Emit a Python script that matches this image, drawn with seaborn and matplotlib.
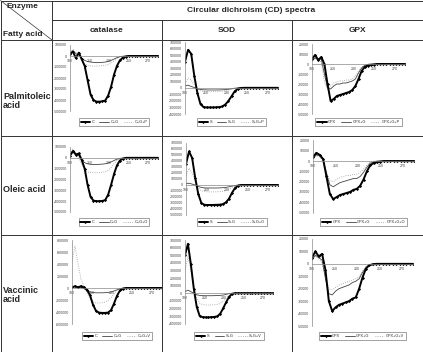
import numpy as np
import pandas as pd
import seaborn as sns
import matplotlib.pyplot as plt
from matplotlib.lines import Line2D
from matplotlib.ticker import FuncFormatter, MultipleLocator

sns.set_style('white')
plt.rcParams['font.family'] = ['Liberation Sans', 'DejaVu Sans']

# wavelength (nm)
wl = [190, 193, 196, 199, 202, 205, 208, 211, 214, 217, 220, 223, 226, 229, 232, 235,
      238, 241, 244, 247, 250, 253, 256, 259, 262, 265, 268, 271, 274, 277, 280]

# CD values, in thousands
# palmitoleic acid
pal_cat_c = [20, 40, -20, 30, -30, -90, -220, -350, -400, -415, -415, -412, -405, -360, -280, -170,
             -90, -40, -15, -5, 0, 0, 0, 0, 0, 0, 0, 0, 0, 0, 0]
pal_cat_cg = [10, 50, 20, 10, -20, -40, -50, -55, -58, -60, -60, -58, -55, -50, -40, -28,
              -15, -6, -2, 0, 0, 0, 0, 0, 0, 0, 0, 0, 0, 0, 0]
pal_cat_cgp = [30, 60, 30, 0, -40, -70, -85, -90, -92, -92, -90, -88, -85, -78, -65, -45,
               -25, -10, -3, 0, 0, 0, 0, 0, 0, 0, 0, 0, 0, 0, 0]
pal_sod_s = [400, 580, 520, 180, -80, -250, -295, -300, -300, -300, -298, -295, -285, -255, -200, -130,
             -55, -15, -3, 0, 0, 0, 0, 0, 0, 0, 0, 0, 0, 0, 0]
pal_sod_sg = [30, 40, 20, 5, -15, -25, -30, -32, -33, -33, -33, -32, -30, -28, -22, -14,
              -6, -2, 0, 0, 0, 0, 0, 0, 0, 0, 0, 0, 0, 0, 0]
pal_sod_sgp = [60, 150, 120, 40, -20, -45, -55, -58, -60, -60, -58, -56, -52, -45, -35, -22,
               -10, -3, 0, 0, 0, 0, 0, 0, 0, 0, 0, 0, 0, 0, 0]
pal_gpx = [5, 9, 4, 7, 0, -20, -37, -35, -32, -31, -30, -29, -28, -26, -22, -15,
           -7, -3, -1.5, -1, -0.5, 0, 0, 0, 0, 0, 0, 0, 0, 0, 0]
pal_gpx_g = [3, 6, 4, 5, -10, -24, -25, -22, -20, -20, -19, -19, -18, -17, -15, -9,
             -4, -1.5, -0.5, 0, 0, 0, 0, 0, 0, 0, 0, 0, 0, 0, 0]
pal_gpx_gp = [4, 7, 5, 2, -18, -25, -22, -19, -18, -17, -17, -16, -16, -15, -12, -7,
              -3, -1, 0, 0, 0, 0, 0, 0, 0, 0, 0, 0, 0, 0, 0]

# oleic acid
ole_cat_c = [20, 60, 30, 40, -20, -100, -250, -360, -395, -400, -400, -398, -390, -340, -250, -150,
             -70, -25, -8, 0, 0, 0, 0, 0, 0, 0, 0, 0, 0, 0, 0]
ole_cat_cg = [30, 70, 40, 20, -20, -45, -55, -60, -62, -62, -60, -58, -55, -48, -38, -25,
              -12, -5, -2, 0, 0, 0, 0, 0, 0, 0, 0, 0, 0, 0, 0]
ole_cat_cgo = [40, 80, 50, 0, -60, -110, -130, -135, -138, -138, -136, -133, -128, -115, -90, -55,
               -25, -10, -3, 0, 0, 0, 0, 0, 0, 0, 0, 0, 0, 0, 0]
ole_sod_s = [350, 560, 450, 120, -150, -300, -330, -333, -333, -332, -330, -328, -320, -290, -230, -130,
             -50, -10, 0, 0, 0, 0, 0, 0, 0, 0, 0, 0, 0, 0, 0]
ole_sod_sg = [20, 30, 15, 0, -25, -40, -48, -50, -50, -50, -50, -48, -45, -40, -30, -18,
              -8, -2, 0, 0, 0, 0, 0, 0, 0, 0, 0, 0, 0, 0, 0]
ole_sod_sgo = [150, 280, 200, 60, -50, -95, -110, -113, -115, -115, -113, -110, -105, -95, -70, -40,
               -15, -4, 0, 0, 0, 0, 0, 0, 0, 0, 0, 0, 0, 0, 0]
ole_gpx = [4, 8, 6, 2, -15, -32, -37, -35, -33, -32, -31, -30, -28, -27, -24, -18,
           -10, -4, -2, -1, -0.5, 0, 0, 0, 0, 0, 0, 0, 0, 0, 0]
ole_gpx_g = [3, 6, 5, 1, -12, -23, -25, -23, -21, -20, -19, -18, -17, -17, -15, -11,
             -6, -2, -1, 0, 0, 0, 0, 0, 0, 0, 0, 0, 0, 0, 0]
ole_gpx_go = [3, 5, 4, 0, -10, -19, -20, -18, -16, -15, -14, -14, -13, -13, -11, -8,
              -4, -1, 0, 0, 0, 0, 0, 0, 0, 0, 0, 0, 0, 0, 0]

# vaccenic acid
vac_cat_c = [10, 30, 10, 30, 10, -30, -120, -280, -380, -410, -415, -415, -410, -370, -260, -130,
             -40, -10, 0, 0, 0, 0, 0, 0, 0, 0, 0, 0, 0, 0, 0]
vac_cat_cg = [10, 30, 15, 10, -10, -40, -65, -75, -80, -80, -80, -78, -75, -65, -50, -30,
              -12, -4, 0, 0, 0, 0, 0, 0, 0, 0, 0, 0, 0, 0, 0]
vac_cat_cgv = [450, 700, 400, 150, 30, -80, -180, -230, -250, -250, -245, -235, -210, -160, -100, -40,
               -10, 0, 0, 0, 0, 0, 0, 0, 0, 0, 0, 0, 0, 0, 0]
vac_sod_s = [500, 650, 380, 60, -180, -300, -315, -318, -318, -315, -312, -305, -270, -200, -120, -50,
             -10, 0, 0, 0, 0, 0, 0, 0, 0, 0, 0, 0, 0, 0, 0]
vac_sod_sg = [20, 40, 20, 0, -20, -30, -32, -33, -33, -33, -32, -31, -28, -25, -15, -5,
              0, 0, 0, 0, 0, 0, 0, 0, 0, 0, 0, 0, 0, 0, 0]
vac_sod_sgv = [300, 480, 300, 80, -60, -130, -150, -155, -155, -155, -152, -148, -135, -105, -65, -25,
               -5, 0, 0, 0, 0, 0, 0, 0, 0, 0, 0, 0, 0, 0, 0]
vac_gpx = [5, 10, 6, 8, -5, -30, -38, -35, -33, -32, -31, -30, -28, -27, -20, -11,
           -4, -1, -0.5, 0, 0, 0, 0, 0, 0, 0, 0, 0, 0, 0, 0]
vac_gpx_g = [3, 7, 5, 3, -12, -24, -25, -22, -20, -19, -18, -17, -15, -14, -12, -7,
             -3, -1, 0, 0, 0, 0, 0, 0, 0, 0, 0, 0, 0, 0, 0]
vac_gpx_gv = [3, 6, 4, 1, -10, -20, -21, -19, -17, -16, -15, -14, -13, -12, -10, -6,
              -2, -1, 0, 0, 0, 0, 0, 0, 0, 0, 0, 0, 0, 0, 0]

enzymes = ['catalase', 'SOD', 'GPX']
fatty_acids = ['Palmitoleic\nacid', 'Oleic acid', 'Vaccinic\nacid']
x_ticks = [190, 210, 230, 250, 270]

W, H = 423, 352
fig = plt.figure(figsize=(W / 100, H / 100), dpi=100)
fig.patch.set_facecolor('white')


def line(x0, y0, x1, y1, c='#333333', lw=0.7):
    fig.add_artist(Line2D([x0 / W, x1 / W], [1 - y0 / H, 1 - y1 / H], color=c, lw=lw,
                          transform=fig.transFigure))


# table grid
line(0.5, 0.5, 422.5, 0.5)
line(0.5, 351.5, 422.5, 351.5)
line(0.5, 0.5, 0.5, 351.5)
line(422.5, 0.5, 422.5, 351.5)
line(52, 0.5, 52, 351.5)
line(52, 20, 422.5, 20)
line(162, 20, 162, 351.5)
line(292, 20, 292, 351.5)
for yy in [40, 136, 235]:
    line(0.5, yy, 422.5, yy)
line(0.5, 0.5, 52, 40, lw=0.5)

fig.text(6 / W, 1 - 7 / H, 'Enzyme', fontsize=6, fontweight='bold', va='center', ha='left')
fig.text(3 / W, 1 - 35 / H, 'Fatty acid', fontsize=6, fontweight='bold', va='center', ha='left')
fig.text(251 / W, 1 - 10 / H, 'Circular dichroism (CD) spectra', fontsize=6, fontweight='bold',
         va='center', ha='center')
for name, cx in zip(enzymes, [107, 227, 357]):
    fig.text(cx / W, 1 - 30 / H, name, fontsize=6, fontweight='bold', va='center', ha='center')
for name, cy in zip(fatty_acids, [101, 190, 295]):
    fig.text(3 / W, 1 - cy / H, name, fontsize=6.5, fontweight='bold', va='center', ha='left',
             linespacing=1.1)

# cell layout: x of 190 nm, x of 280 nm, y of ymax, y of ymin, ylim, tick step, legend centre
cells = [
    [(70, 158, 45, 111, -500000, 100000, 100000, 122),
     (185, 278, 42, 114, -400000, 700000, 100000, 122),
     (312, 405, 44, 114, -50000, 20000, 10000, 122)],
    [(70, 158, 147, 212, -500000, 100000, 100000, 222),
     (186, 278, 143, 215, -500000, 700000, 100000, 222),
     (313, 414, 140.5, 212.5, -50000, 20000, 10000, 222)],
    [(72, 162, 240, 324, -600000, 800000, 200000, 336),
     (185, 273, 240, 323.6, -400000, 700000, 100000, 336),
     (312, 413, 239, 326, -50000, 20000, 10000, 336)],
]

series = [
    [(pal_cat_c, pal_cat_cg, pal_cat_cgp), (pal_sod_s, pal_sod_sg, pal_sod_sgp),
     (pal_gpx, pal_gpx_g, pal_gpx_gp)],
    [(ole_cat_c, ole_cat_cg, ole_cat_cgo), (ole_sod_s, ole_sod_sg, ole_sod_sgo),
     (ole_gpx, ole_gpx_g, ole_gpx_go)],
    [(vac_cat_c, vac_cat_cg, vac_cat_cgv), (vac_sod_s, vac_sod_sg, vac_sod_sgv),
     (vac_gpx, vac_gpx_g, vac_gpx_gv)],
]

prefixes = ['C', 'S', 'GPX']
suffixes = ['P', 'O', 'V']

for r in range(3):
    for c in range(3):
        x0, x1, yt, yb, ymin, ymax, step, leg_y = cells[r][c]
        ax = fig.add_axes([x0 / W, 1 - yb / H, (x1 - x0) / W, (yb - yt) / H])
        p = prefixes[c]
        labels = [p, p + '+G', p + '+G+' + suffixes[r]]
        s1, s2, s3 = series[r][c]
        sns.lineplot(x=wl, y=np.array(s3) * 1000, ax=ax, color='#9a9a9a', linewidth=0.6,
                     linestyle=':', label=labels[2])
        sns.lineplot(x=wl, y=np.array(s2) * 1000, ax=ax, color='#444444', linewidth=0.6,
                     label=labels[1])
        sns.lineplot(x=wl, y=np.array(s1) * 1000, ax=ax, color='black', linewidth=1.4,
                     marker='D', markersize=1.6, markeredgewidth=0, label=labels[0])
        ax.set_xlim(190, 280)
        ax.set_ylim(ymin, ymax)
        ax.patch.set_alpha(0)
        for sp in ['top', 'right']:
            ax.spines[sp].set_visible(False)
        ax.spines['left'].set_color('#888888')
        ax.spines['left'].set_linewidth(0.5)
        ax.spines['bottom'].set_position(('data', 0))
        ax.spines['bottom'].set_color('#888888')
        ax.spines['bottom'].set_linewidth(0.5)
        ax.set_xticks(x_ticks)
        ax.yaxis.set_major_locator(MultipleLocator(step))
        ax.yaxis.set_major_formatter(FuncFormatter(lambda v, pos: f'{int(round(v))}'))
        ax.tick_params(axis='both', labelsize=2.6, colors='#444444', length=1.2, width=0.4, pad=0.8)
        ax.set_xlabel('')
        ax.set_ylabel('')
        h, l = ax.get_legend_handles_labels()
        leg = ax.legend(h[::-1], l[::-1], ncol=3, loc='center',
                        bbox_to_anchor=((x0 + x1) / 2 / W, 1 - leg_y / H),
                        bbox_transform=fig.transFigure, fontsize=2.8, frameon=True,
                        fancybox=False, handlelength=2.4, columnspacing=1.3,
                        borderpad=0.5, handletextpad=0.4)
        leg.get_frame().set_edgecolor('#333333')
        leg.get_frame().set_linewidth(0.4)

fig.savefig('out.png', dpi=100, facecolor='white')
